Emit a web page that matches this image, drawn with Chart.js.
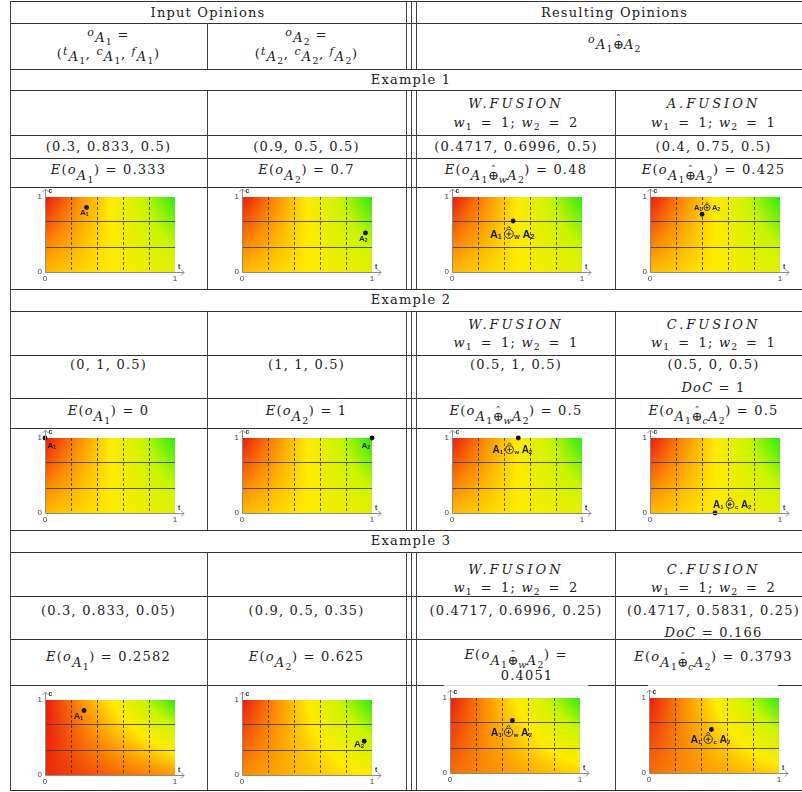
<!DOCTYPE html>
<html>
<head>
<meta charset="utf-8">
<script src="https://cdn.jsdelivr.net/npm/chart.js@4.4.1/dist/chart.umd.min.js"></script>
<style>
  html, body { margin: 0; padding: 0; background: #fff; overflow: hidden; }
  #page { position: relative; width: 802px; height: 792px; overflow: hidden;
          font-family: "DejaVu Serif", serif; font-size: 13px; color: #222; }
  .h { position: absolute; height: 1px; background: #333; }
  .v { position: absolute; width: 1px; background: #444; }
  .t { position: absolute; white-space: nowrap; line-height: 16px; letter-spacing: 1.2px; text-align: center; }
  .t i { font-style: italic; }
  .caps { letter-spacing: 3px; }
  .up { position: relative; top: -3px; font-size: 0.85em; }
  .dn { position: relative; top: 3px; }
  .dn2 { position: relative; top: 6px; }
  .sb { font-size: 0.72em; position: relative; top: 3px; letter-spacing: 0.5px; }
  .eq { margin: 0 3px; }
  .op { position: relative; display: inline-block; font-style: normal; letter-spacing: 0; }
  .hat { position: absolute; left: 0; right: 0; top: -0.55em; text-align: center; font-size: 0.8em; }
  canvas { position: absolute; }
</style>
</head>
<body>
<div id="page"></div>
<script>
// opinions drawn in the small charts: trust t, confidence c, and f
const ex1T = [0.32, 0.95, 0.47, 0.40];
const ex1C = [0.86, 0.52, 0.68, 0.77];
const ex1F = [0.5, 0.5, 0.5, 0.5];
const ex2T = [0, 1, 0.51, 0.5];
const ex2C = [1, 1, 1, 0];
const ex2F = [0.5, 0.5, 0.5, 0.5];
const ex3T = [0.30, 0.94, 0.48, 0.48];
const ex3C = [0.86, 0.45, 0.70, 0.58];
const ex3F = [0.05, 0.35, 0.25, 0.25];
const tagKinds = [["A1", "A2", "w", "a"], ["A1", "A2", "w", "c"], ["A1", "A2", "w", "c"]];
const tTicks = [0, 0.2, 0.4, 0.6, 0.8, 1];
const cTicks = [0, 0.3333, 0.6667, 1];

// layout
const plotLeft = [[45, 242, 452, 650], [45, 242, 452, 650], [45, 242, 450, 649]];
const plotTop = [[197, 197, 197, 197], [438, 438, 438, 438], [700, 700, 698, 698]];
const tagPlace = [
  [{ align: "right", dx: 2, base: "top", dy: 2, size: 8 }, { align: "right", dx: 2, base: "top", dy: 2, size: 8 },
   { align: "center", dx: -1, base: "top", dy: 9, size: 11 }, { align: "center", dx: 5, base: "bottom", dy: -4, size: 7.5 }],
  [{ align: "left", dx: 2.5, base: "top", dy: 4, size: 8 }, { align: "right", dx: -2, base: "top", dy: 4, size: 8 },
   { align: "center", dx: -6, base: "top", dy: 8, size: 10 }, { align: "left", dx: -2, base: "bottom", dy: -5, size: 10 }],
  [{ align: "right", dx: -1, base: "top", dy: 2, size: 9 }, { align: "right", dx: 0, base: "top", dy: -1, size: 9.5 },
   { align: "center", dx: -1, base: "top", dy: 8, size: 10.5 }, { align: "center", dx: -1, base: "top", dy: 6, size: 10.5 }]
];
const colorStops = [[0, [235, 25, 15]], [0.25, [250, 135, 5]], [0.5, [255, 235, 0]], [0.75, [200, 245, 0]], [1, [45, 235, 20]]];

const page = document.getElementById("page");

function box(cls, x, y, w, h) {
  const d = document.createElement("div");
  d.className = cls;
  d.style.left = x + "px";
  d.style.top = y + "px";
  if (w != null) d.style.width = w + "px";
  if (h != null) d.style.height = h + "px";
  page.appendChild(d);
  return d;
}

// table rules
const hLines = [1, 23, 69, 90, 135, 158, 187, 289, 311, 355, 398, 428, 530, 552, 596, 639, 685, 790];
hLines.forEach(y => box("h", 10, y, 802));
const bodySegs = [[90, 289], [311, 530], [552, 790]];
box("v", 10, 1, null, 790);
[[23, 69]].concat(bodySegs).forEach(s => box("v", 207, s[0], null, s[1] - s[0]));
[406, 411, 416].forEach(x => [[1, 69]].concat(bodySegs).forEach(s => box("v", x, s[0], null, s[1] - s[0])));
bodySegs.forEach(s => box("v", 615, s[0], null, s[1] - s[0]));
// light edges of the pasted pictures in example 3
box("h", 444, 685, 144).style.background = "#d6d6d6";
box("h", 648, 685, 130).style.background = "#d6d6d6";

const OP = '<span class="op">&#8853;<span class="hat">&#710;</span></span>';
const sub = s => `<span class="sb">${s}</span>`;
const A1 = `<i>A</i>${sub("1")}`, A2 = `<i>A</i>${sub("2")}`;
const low = (s, cls) => `<span class="${cls || "dn"}">${s}</span>`;
const eVal = (grp, v) => `<i>E</i>(<i>o</i>${low(grp, "dn2")}) = ${v}`;
const wLine = (a, b) => `<i>w</i>${sub("1")} <span class="eq">=</span> ${a}; <i>w</i>${sub("2")} <span class="eq">=</span> ${b}`;
const fused = k => `${A1}${OP}${k ? sub(`<i>${k}</i>`) : ""}${A2}`;

const C1 = [10, 197], C2 = [207, 199], C3 = [417, 198], C4 = [615, 197];
const texts = [
  ["Input Opinions", [10, 396], 5],
  ["Resulting Opinions", [417, 395], 5],
  [`<i class="up">o</i>${low(A1)} =`, C1, 27],
  [`(<i class="up">t</i>${low(A1)}, <i class="up">c</i>${low(A1)}, <i class="up">f</i>${low(A1)})`, C1, 46],
  [`<i class="up">o</i>${low(A2)} =`, C2, 27],
  [`(<i class="up">t</i>${low(A2)}, <i class="up">c</i>${low(A2)}, <i class="up">f</i>${low(A2)})`, C2, 46],
  [`<i class="up">o</i>${low(fused(""))}`, [417, 395], 34],

  ["Example 1", [10, 802], 72],
  ['<i class="caps">W.FUSION</i>', C3, 96], [wLine(1, 2), C3, 115],
  ['<i class="caps">A.FUSION</i>', C4, 96], [wLine(1, 1), C4, 115],
  ["(0.3, 0.833, 0.5)", C1, 139], ["(0.9, 0.5, 0.5)", C2, 139],
  ["(0.4717, 0.6996, 0.5)", C3, 139], ["(0.4, 0.75, 0.5)", C4, 139],
  [eVal(A1, "0.333"), C1, 162], [eVal(A2, "0.7"), C2, 162],
  [eVal(fused("w"), "0.48"), C3, 162], [eVal(fused(""), "0.425"), C4, 162],

  ["Example 2", [10, 802], 292],
  ['<i class="caps">W.FUSION</i>', C3, 317], [wLine(1, 1), C3, 335],
  ['<i class="caps">C.FUSION</i>', C4, 317], [wLine(1, 1), C4, 335],
  ["(0, 1, 0.5)", C1, 357], ["(1, 1, 0.5)", C2, 357],
  ["(0.5, 1, 0.5)", C3, 357], ["(0.5, 0, 0.5)", C4, 357], ["<i>DoC</i> = 1", C4, 380],
  [eVal(A1, "0"), C1, 403], [eVal(A2, "1"), C2, 403],
  [eVal(fused("w"), "0.5"), C3, 403], [eVal(fused("c"), "0.5"), C4, 403],

  ["Example 3", [10, 802], 533],
  ['<i class="caps">W.FUSION</i>', C3, 562], [wLine(1, 2), C3, 580],
  ['<i class="caps">C.FUSION</i>', C4, 562], [wLine(1, 2), C4, 580],
  ["(0.3, 0.833, 0.05)", C1, 603], ["(0.9, 0.5, 0.35)", C2, 603],
  ["(0.4717, 0.6996, 0.25)", C3, 603], ["(0.4717, 0.5831, 0.25)", C4, 603], ["<i>DoC</i> = 0.166", C4, 625],
  [eVal(A1, "0.2582"), C1, 649], [eVal(A2, "0.625"), C2, 649],
  [`<i>E</i>(<i>o</i>${low(fused("w"), "dn2")}) =`, C3, 647], ["0.4051", [428, 198], 668],
  [eVal(fused("c"), "0.3793"), C4, 649]
];
texts.forEach(([html, cell, top]) => {
  const d = box("t", cell[0], top, cell[1]);
  d.innerHTML = html;
});

// ---- small charts ----
function lerpColor(v) {
  v = Math.max(0, Math.min(1, v));
  for (let i = 1; i < colorStops.length; i++) {
    const [p1, c1] = colorStops[i], [p0, c0] = colorStops[i - 1];
    if (v <= p1) {
      const k = (v - p0) / (p1 - p0);
      return c0.map((c, j) => Math.round(c + (c1[j] - c) * k));
    }
  }
  return colorStops[colorStops.length - 1][1];
}

const fieldPlugin = {
  id: "field",
  beforeDraw(chart, args, opts) {
    const { ctx, chartArea: a, scales: { x, y } } = chart;
    const w = Math.round(a.right - a.left), h = Math.round(a.bottom - a.top);
    const img = ctx.createImageData(w, h);
    for (let j = 0; j < h; j++) {
      const c = y.getValueForPixel(a.top + j + 0.5);
      for (let i = 0; i < w; i++) {
        const t = x.getValueForPixel(a.left + i + 0.5);
        const e = t * c + opts.f * (1 - c);
        const rgb = lerpColor(0.75 * e + 0.25 * t);
        const k = (j * w + i) * 4;
        img.data[k] = rgb[0]; img.data[k + 1] = rgb[1]; img.data[k + 2] = rgb[2]; img.data[k + 3] = 255;
      }
    }
    ctx.putImageData(img, Math.round(a.left), Math.round(a.top));
  }
};

const axisPlugin = {
  id: "arrows",
  afterDraw(chart) {
    const { ctx, chartArea: a } = chart;
    const L = Math.round(a.left) + 0.5, B = Math.round(a.bottom) + 0.5;
    ctx.save();
    ctx.strokeStyle = "#8c8c8c";
    ctx.lineWidth = 1;
    ctx.beginPath();
    ctx.moveTo(L, B); ctx.lineTo(L, a.top - 8);
    ctx.moveTo(L - 3, a.top - 5); ctx.lineTo(L, a.top - 8); ctx.lineTo(L + 3, a.top - 5);
    ctx.moveTo(L, B); ctx.lineTo(a.right + 9, B);
    ctx.moveTo(a.right + 6, B - 3); ctx.lineTo(a.right + 9, B); ctx.lineTo(a.right + 6, B + 3);
    ctx.stroke();
    ctx.fillStyle = "#333";
    ctx.font = 'bold 7px "Liberation Sans", Arial, sans-serif';
    ctx.fillText("c", L + 3, a.top - 4);
    ctx.fillText("t", a.right + 3, B - 4);
    ctx.restore();
  }
};

function tagParts(kind) {
  if (kind === "A1") return [{ a: "1" }];
  if (kind === "A2") return [{ a: "2" }];
  return [{ a: "1" }, { op: kind === "a" ? "" : kind }, { a: "2" }];
}

function drawTag(ctx, px, py, kind, pl) {
  const s = pl.size;
  const big = `bold ${s}px "Liberation Sans", Arial, sans-serif`;
  const small = `bold ${Math.round(s * 0.6)}px "Liberation Sans", Arial, sans-serif`;
  const r = s * 0.4, gap = s * 0.25;
  const items = [];
  let w = 0;
  tagParts(kind).forEach(p => {
    if (p.a) {
      ctx.font = big; const wa = ctx.measureText("A").width;
      ctx.font = small; const ws = ctx.measureText(p.a).width;
      items.push({ type: "A", x: w, wa, sub: p.a });
      w += wa + ws + gap;
    } else {
      ctx.font = small;
      const ws = p.op ? ctx.measureText(p.op).width + 1 : 0;
      items.push({ type: "op", x: w + r, sub: p.op });
      w += 2 * r + ws + gap;
    }
  });
  w -= gap;
  const cap = s * 0.72;
  const x0 = pl.align === "left" ? px + pl.dx : pl.align === "right" ? px + pl.dx - w : px + pl.dx - w / 2;
  const base = pl.base === "top" ? py + pl.dy + cap : py + pl.dy;
  ctx.save();
  ctx.fillStyle = "#1a1a1a";
  ctx.strokeStyle = "#1a1a1a";
  ctx.textAlign = "left";
  ctx.textBaseline = "alphabetic";
  items.forEach(it => {
    if (it.type === "A") {
      ctx.font = big; ctx.fillText("A", x0 + it.x, base);
      ctx.font = small; ctx.fillText(it.sub, x0 + it.x + it.wa, base + s * 0.12);
    } else {
      const cx = x0 + it.x, cy = base - cap / 2;
      ctx.lineWidth = Math.max(0.8, s / 12);
      ctx.beginPath(); ctx.arc(cx, cy, r, 0, Math.PI * 2); ctx.stroke();
      ctx.beginPath();
      ctx.moveTo(cx - r * 0.55, cy); ctx.lineTo(cx + r * 0.55, cy);
      ctx.moveTo(cx, cy - r * 0.55); ctx.lineTo(cx, cy + r * 0.55);
      ctx.moveTo(cx - r * 0.45, cy - r - 0.8); ctx.lineTo(cx, cy - r * 1.7); ctx.lineTo(cx + r * 0.45, cy - r - 0.8);
      ctx.stroke();
      if (it.sub) { ctx.font = small; ctx.fillText(it.sub, cx + r + 1, base + s * 0.12); }
    }
  });
  ctx.restore();
}

const tagPlugin = {
  id: "tag",
  afterDatasetsDraw(chart, args, opts) {
    const pt = chart.getDatasetMeta(0).data[0];
    drawTag(chart.ctx, pt.x, pt.y, opts.kind, opts.place);
  }
};

const tickFont = { size: 8, family: '"Liberation Sans", Arial, sans-serif' };
const edgeLabel = v => (v === 0 || v === 1) ? String(v) : "";
const innerGrid = col => ctx => (ctx.tick && (ctx.tick.value === 0 || ctx.tick.value === 1)) ? "rgba(0,0,0,0)" : col;

function makeChart(e, k, t, c, f) {
  const cv = document.createElement("canvas");
  cv.width = 175; cv.height = 100;
  cv.style.left = (plotLeft[e][k] - 14) + "px";
  cv.style.top = (plotTop[e][k] - 12) + "px";
  page.appendChild(cv);
  new Chart(cv, {
    type: "scatter",
    data: { datasets: [{ data: [{ x: t, y: c }], pointRadius: 2.4, backgroundColor: "#111", borderWidth: 0, clip: false }] },
    options: {
      responsive: false, animation: false, events: [],
      layout: { padding: { left: 2, right: 31, top: 12, bottom: 3 } },
      plugins: {
        legend: { display: false }, tooltip: { enabled: false },
        field: { f }, tag: { kind: tagKinds[e][k], place: tagPlace[e][k] }
      },
      scales: {
        x: {
          type: "linear", min: 0, max: 1,
          afterBuildTicks: s => { s.ticks = tTicks.map(v => ({ value: v })); },
          afterFit: s => { s.height = 10; },
          ticks: { padding: 2, autoSkip: false, maxRotation: 0, font: tickFont, color: "#444", callback: edgeLabel },
          grid: { drawTicks: false, lineWidth: 1, color: innerGrid("rgba(60,55,0,0.85)") },
          border: { display: false, dash: [3, 2] }
        },
        y: {
          type: "linear", min: 0, max: 1,
          afterBuildTicks: s => { s.ticks = cTicks.map(v => ({ value: v })); },
          afterFit: s => { s.width = 12; },
          ticks: { padding: 3, autoSkip: false, font: tickFont, color: "#444", callback: edgeLabel },
          grid: { drawTicks: false, lineWidth: 1, color: innerGrid("rgba(70,70,20,0.9)") },
          border: { display: false }
        }
      }
    },
    plugins: [fieldPlugin, axisPlugin, tagPlugin]
  });
}

[[ex1T, ex1C, ex1F], [ex2T, ex2C, ex2F], [ex3T, ex3C, ex3F]].forEach(([ts, cs, fs], e) => {
  ts.forEach((t, k) => makeChart(e, k, t, cs[k], fs[k]));
});
</script>
</body>
</html>
